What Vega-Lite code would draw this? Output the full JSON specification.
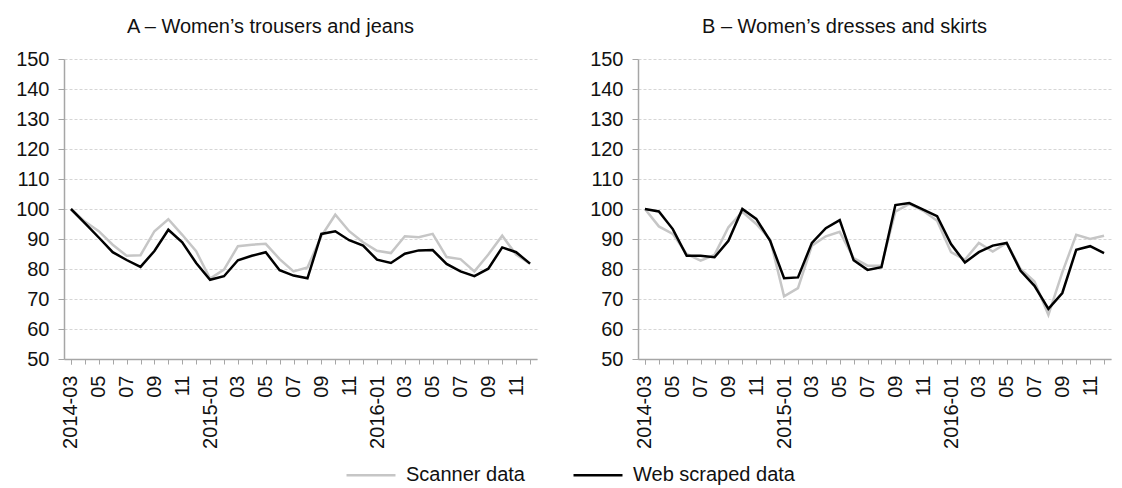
{
  "$schema": "https://vega.github.io/schema/vega-lite/v6.json",
  "padding": {"left": 15, "top": 17, "right": 0, "bottom": 0},
  "background": "#ffffff",
  "data": {
    "values": [
      {"panel": "A", "month": "2014-03", "Scanner data": 100.0, "Web scraped data": 100.0},
      {"panel": "A", "month": "2014-04", "Scanner data": 95.8, "Web scraped data": 95.3},
      {"panel": "A", "month": "2014-05", "Scanner data": 92.6, "Web scraped data": 90.5},
      {"panel": "A", "month": "2014-06", "Scanner data": 88.1, "Web scraped data": 85.6},
      {"panel": "A", "month": "2014-07", "Scanner data": 84.4, "Web scraped data": 83.0},
      {"panel": "A", "month": "2014-08", "Scanner data": 84.6, "Web scraped data": 80.7},
      {"panel": "A", "month": "2014-09", "Scanner data": 92.6, "Web scraped data": 86.0},
      {"panel": "A", "month": "2014-10", "Scanner data": 96.6, "Web scraped data": 93.1},
      {"panel": "A", "month": "2014-11", "Scanner data": 91.4, "Web scraped data": 88.9},
      {"panel": "A", "month": "2014-12", "Scanner data": 85.9, "Web scraped data": 82.0},
      {"panel": "A", "month": "2015-01", "Scanner data": 76.8, "Web scraped data": 76.4},
      {"panel": "A", "month": "2015-02", "Scanner data": 79.8, "Web scraped data": 77.6},
      {"panel": "A", "month": "2015-03", "Scanner data": 87.6, "Web scraped data": 82.9},
      {"panel": "A", "month": "2015-04", "Scanner data": 88.1, "Web scraped data": 84.4},
      {"panel": "A", "month": "2015-05", "Scanner data": 88.4, "Web scraped data": 85.6},
      {"panel": "A", "month": "2015-06", "Scanner data": 83.3, "Web scraped data": 79.6},
      {"panel": "A", "month": "2015-07", "Scanner data": 79.2, "Web scraped data": 77.8},
      {"panel": "A", "month": "2015-08", "Scanner data": 80.5, "Web scraped data": 76.9},
      {"panel": "A", "month": "2015-09", "Scanner data": 91.0, "Web scraped data": 91.7},
      {"panel": "A", "month": "2015-10", "Scanner data": 98.1, "Web scraped data": 92.6},
      {"panel": "A", "month": "2015-11", "Scanner data": 92.6, "Web scraped data": 89.6},
      {"panel": "A", "month": "2015-12", "Scanner data": 88.9, "Web scraped data": 87.8},
      {"panel": "A", "month": "2016-01", "Scanner data": 86.1, "Web scraped data": 83.1},
      {"panel": "A", "month": "2016-02", "Scanner data": 85.3, "Web scraped data": 82.0},
      {"panel": "A", "month": "2016-03", "Scanner data": 90.9, "Web scraped data": 85.1},
      {"panel": "A", "month": "2016-04", "Scanner data": 90.6, "Web scraped data": 86.2},
      {"panel": "A", "month": "2016-05", "Scanner data": 91.7, "Web scraped data": 86.3},
      {"panel": "A", "month": "2016-06", "Scanner data": 84.0, "Web scraped data": 81.7},
      {"panel": "A", "month": "2016-07", "Scanner data": 83.3, "Web scraped data": 79.2},
      {"panel": "A", "month": "2016-08", "Scanner data": 79.2, "Web scraped data": 77.6},
      {"panel": "A", "month": "2016-09", "Scanner data": 84.8, "Web scraped data": 80.1},
      {"panel": "A", "month": "2016-10", "Scanner data": 91.1, "Web scraped data": 87.2},
      {"panel": "A", "month": "2016-11", "Scanner data": 84.8, "Web scraped data": 85.6},
      {"panel": "A", "month": "2016-12", "Scanner data": 81.8, "Web scraped data": 81.8},
      {"panel": "B", "month": "2014-03", "Scanner data": 100.0, "Web scraped data": 100.0},
      {"panel": "B", "month": "2014-04", "Scanner data": 94.2, "Web scraped data": 99.2},
      {"panel": "B", "month": "2014-05", "Scanner data": 91.7, "Web scraped data": 93.3},
      {"panel": "B", "month": "2014-06", "Scanner data": 85.0, "Web scraped data": 84.4},
      {"panel": "B", "month": "2014-07", "Scanner data": 82.8, "Web scraped data": 84.4},
      {"panel": "B", "month": "2014-08", "Scanner data": 84.7, "Web scraped data": 83.9},
      {"panel": "B", "month": "2014-09", "Scanner data": 93.9, "Web scraped data": 89.4},
      {"panel": "B", "month": "2014-10", "Scanner data": 99.1, "Web scraped data": 100.0},
      {"panel": "B", "month": "2014-11", "Scanner data": 95.0, "Web scraped data": 96.7},
      {"panel": "B", "month": "2014-12", "Scanner data": 89.8, "Web scraped data": 89.4},
      {"panel": "B", "month": "2015-01", "Scanner data": 70.9, "Web scraped data": 76.9},
      {"panel": "B", "month": "2015-02", "Scanner data": 73.6, "Web scraped data": 77.2},
      {"panel": "B", "month": "2015-03", "Scanner data": 87.8, "Web scraped data": 88.7},
      {"panel": "B", "month": "2015-04", "Scanner data": 90.9, "Web scraped data": 93.6},
      {"panel": "B", "month": "2015-05", "Scanner data": 92.4, "Web scraped data": 96.3},
      {"panel": "B", "month": "2015-06", "Scanner data": 83.6, "Web scraped data": 82.9},
      {"panel": "B", "month": "2015-07", "Scanner data": 81.1, "Web scraped data": 79.7},
      {"panel": "B", "month": "2015-08", "Scanner data": 81.1, "Web scraped data": 80.6},
      {"panel": "B", "month": "2015-09", "Scanner data": 99.1, "Web scraped data": 101.3},
      {"panel": "B", "month": "2015-10", "Scanner data": 101.7, "Web scraped data": 102.0},
      {"panel": "B", "month": "2015-11", "Scanner data": 99.4, "Web scraped data": 99.8},
      {"panel": "B", "month": "2015-12", "Scanner data": 96.1, "Web scraped data": 97.6},
      {"panel": "B", "month": "2016-01", "Scanner data": 85.6, "Web scraped data": 88.3},
      {"panel": "B", "month": "2016-02", "Scanner data": 83.1, "Web scraped data": 82.2},
      {"panel": "B", "month": "2016-03", "Scanner data": 88.7, "Web scraped data": 85.6},
      {"panel": "B", "month": "2016-04", "Scanner data": 85.8, "Web scraped data": 87.8},
      {"panel": "B", "month": "2016-05", "Scanner data": 88.7, "Web scraped data": 88.7},
      {"panel": "B", "month": "2016-06", "Scanner data": 80.0, "Web scraped data": 79.4},
      {"panel": "B", "month": "2016-07", "Scanner data": 75.8, "Web scraped data": 74.4},
      {"panel": "B", "month": "2016-08", "Scanner data": 64.7, "Web scraped data": 66.7},
      {"panel": "B", "month": "2016-09", "Scanner data": 78.9, "Web scraped data": 72.0},
      {"panel": "B", "month": "2016-10", "Scanner data": 91.4, "Web scraped data": 86.4},
      {"panel": "B", "month": "2016-11", "Scanner data": 90.0, "Web scraped data": 87.6},
      {"panel": "B", "month": "2016-12", "Scanner data": 91.1, "Web scraped data": 85.3}
    ]
  },
  "bounds": "flush",
  "spacing": 101,
  "resolve": {"legend": {"color": "independent"}},
  "hconcat": [
    {
      "title": {"text": "A – Women’s trousers and jeans", "dx": -30, "offset": 12},
      "width": 473,
      "height": 300,
      "transform": [
        {"filter": "datum.panel === 'A'"},
        {"fold": ["Scanner data", "Web scraped data"], "as": ["series", "value"]}
      ],
      "mark": {"type": "line", "strokeWidth": 2.5},
      "encoding": {
        "x": {"field": "month", "type": "ordinal", "scale": {"paddingInner": 0, "paddingOuter": 0}},
        "y": {"field": "value", "type": "quantitative", "scale": {"domain": [50, 150], "nice": false, "zero": false}},
        "color": {
          "field": "series",
          "type": "nominal",
          "scale": {"domain": ["Scanner data", "Web scraped data"], "range": ["#c6c6c6", "#000000"]},
          "legend": {"orient": "none", "legendX": 281, "legendY": 390.2, "direction": "horizontal", "title": null}
        }
      }
    },
    {
      "title": {"text": "B – Women’s dresses and skirts", "dx": -30, "offset": 12},
      "width": 473,
      "height": 300,
      "transform": [
        {"filter": "datum.panel === 'B'"},
        {"fold": ["Scanner data", "Web scraped data"], "as": ["series", "value"]}
      ],
      "mark": {"type": "line", "strokeWidth": 2.5},
      "encoding": {
        "x": {"field": "month", "type": "ordinal", "scale": {"paddingInner": 0, "paddingOuter": 0}},
        "y": {"field": "value", "type": "quantitative", "scale": {"domain": [50, 150], "nice": false, "zero": false}},
        "color": {
          "field": "series",
          "type": "nominal",
          "scale": {"domain": ["Scanner data", "Web scraped data"], "range": ["#c6c6c6", "#000000"]},
          "legend": null
        }
      }
    }
  ],
  "config": {
    "font": "Liberation Sans",
    "view": {"stroke": null},
    "title": {"fontSize": 20, "fontWeight": "normal", "color": "#111111", "anchor": "middle", "frame": "group"},
    "axisX": {
      "title": null,
      "tickBand": "extent",
      "labelAngle": 270,
      "labelFontSize": 20,
      "labelColor": "#111111",
      "labelPadding": 11,
      "labelOverlap": false,
      "tickSize": 5,
      "tickColor": "#a6a6a6",
      "domainColor": "#a6a6a6",
      "domainWidth": 1.5,
      "grid": false,
      "labelExpr": "!isString(datum.value) ? '' : (parseInt(substring(datum.value, 5, 7)) % 2 == 0 ? '' : ((substring(datum.value, 5, 7) == '01' || datum.value == '2014-03') ? datum.value : substring(datum.value, 5, 7)))"
    },
    "axisY": {
      "title": null,
      "values": [50, 60, 70, 80, 90, 100, 110, 120, 130, 140, 150],
      "labelFontSize": 20,
      "labelColor": "#111111",
      "labelPadding": 9,
      "tickSize": 6,
      "tickColor": "#a6a6a6",
      "domainColor": "#a6a6a6",
      "domainWidth": 1.5,
      "grid": true,
      "gridColor": "#d6d6d6",
      "gridDash": [3, 2],
      "gridWidth": 1
    },
    "legend": {
      "symbolType": "stroke",
      "symbolSize": 2400,
      "symbolStrokeWidth": 2.5,
      "labelFontSize": 20,
      "labelColor": "#111111",
      "labelOffset": 9,
      "labelLimit": 300,
      "columnPadding": 43,
      "padding": 0
    }
  }
}
